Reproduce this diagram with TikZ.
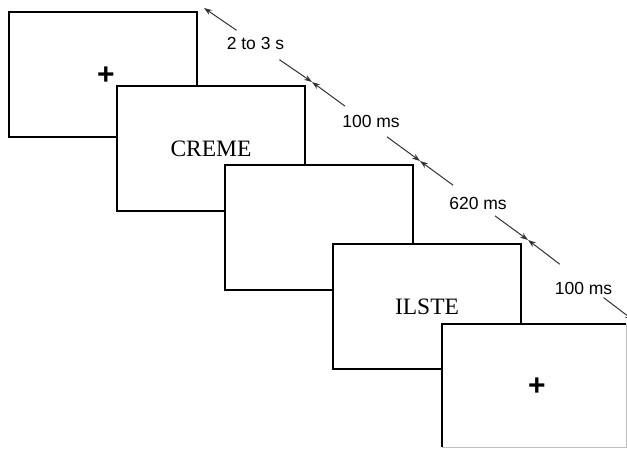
\documentclass[tikz,border=0pt]{standalone}
\usepackage{fontspec}
\setmainfont{Liberation Serif}
\setsansfont{Liberation Sans}
\usetikzlibrary{arrows.meta,calc}
\begin{document}
\begin{tikzpicture}[x=1pt,y=-1pt,
  screen/.style={draw=black,line width=2pt,fill=white,minimum width=188pt,minimum height=125pt,anchor=north west,inner sep=0pt,outer sep=0pt,font=\fontsize{23.5}{26}\selectfont},
  fix/.style={font=\sffamily\bfseries\fontsize{30}{32}\selectfont,inner sep=0pt},
  dur/.style={font=\sffamily\fontsize{17.5}{20}\selectfont,inner sep=0pt},
  arr/.style={draw=black!80,line width=1pt,-{Stealth[length=8pt,width=5.5pt]},shorten <=26pt}]
\useasboundingbox (0,0) rectangle (627,448);
\clip (0,0) rectangle (627,448);
\node[screen] (b1) at (9,12) {};
\node[fix] (p1) at ($(b1.center)+(3,1)$) {+};
\node[screen] (b2) at (117,86) {CREME};
\node[screen] (b3) at (225,165) {};
\node[screen] (b4) at (333,244) {ILSTE};
\node[screen,draw=none,minimum width=184pt,minimum height=123pt] (b5) at (442,324) {};
\draw[line width=2pt] (b5.south west) -- (b5.north west) -- (b5.north east);
\draw[gray!50,line width=0.8pt] (b5.north east) -- (b5.south east) -- (b5.south west);
\node[fix] (p5) at ($(b5.center)+(3,1)$) {+};
\coordinate (t1) at ($(b1.north east)+(7,-4)$);
\coordinate (t2) at ($(b2.north east)+(7,-4)$);
\coordinate (t3) at ($(b3.north east)+(7,-4)$);
\coordinate (t4) at ($(b4.north east)+(7,-4)$);
\coordinate (t5) at ($(b5.north east)+(7,-4)$);
\coordinate (m1) at ($(t1)!0.5!(t2)$);
\coordinate (m2) at ($(t2)!0.5!(t3)$);
\coordinate (m3) at ($(t3)!0.5!(t4)$);
\coordinate (m4) at ($(t4)!0.5!(t5)$);
\node[dur] (l1) at ($(m1)+(-2.5,-2)$) {2 to 3 s};
\node[dur] (l2) at ($(m2)+(5,0)$) {100 ms};
\node[dur] (l3) at ($(m3)+(4,2.5)$) {620 ms};
\node[dur] (l4) at ($(m4)+(3,8)$) {100 ms};
\draw[arr] (m1) -- (t1);
\draw[arr] (m1) -- (t2);
\draw[arr] (m2) -- (t2);
\draw[arr] (m2) -- (t3);
\draw[arr] (m3) -- (t3);
\draw[arr] (m3) -- (t4);
\draw[arr] (m4) -- (t4);
\draw[arr,shorten <=29pt] (m4) -- (t5);
\end{tikzpicture}
\end{document}
